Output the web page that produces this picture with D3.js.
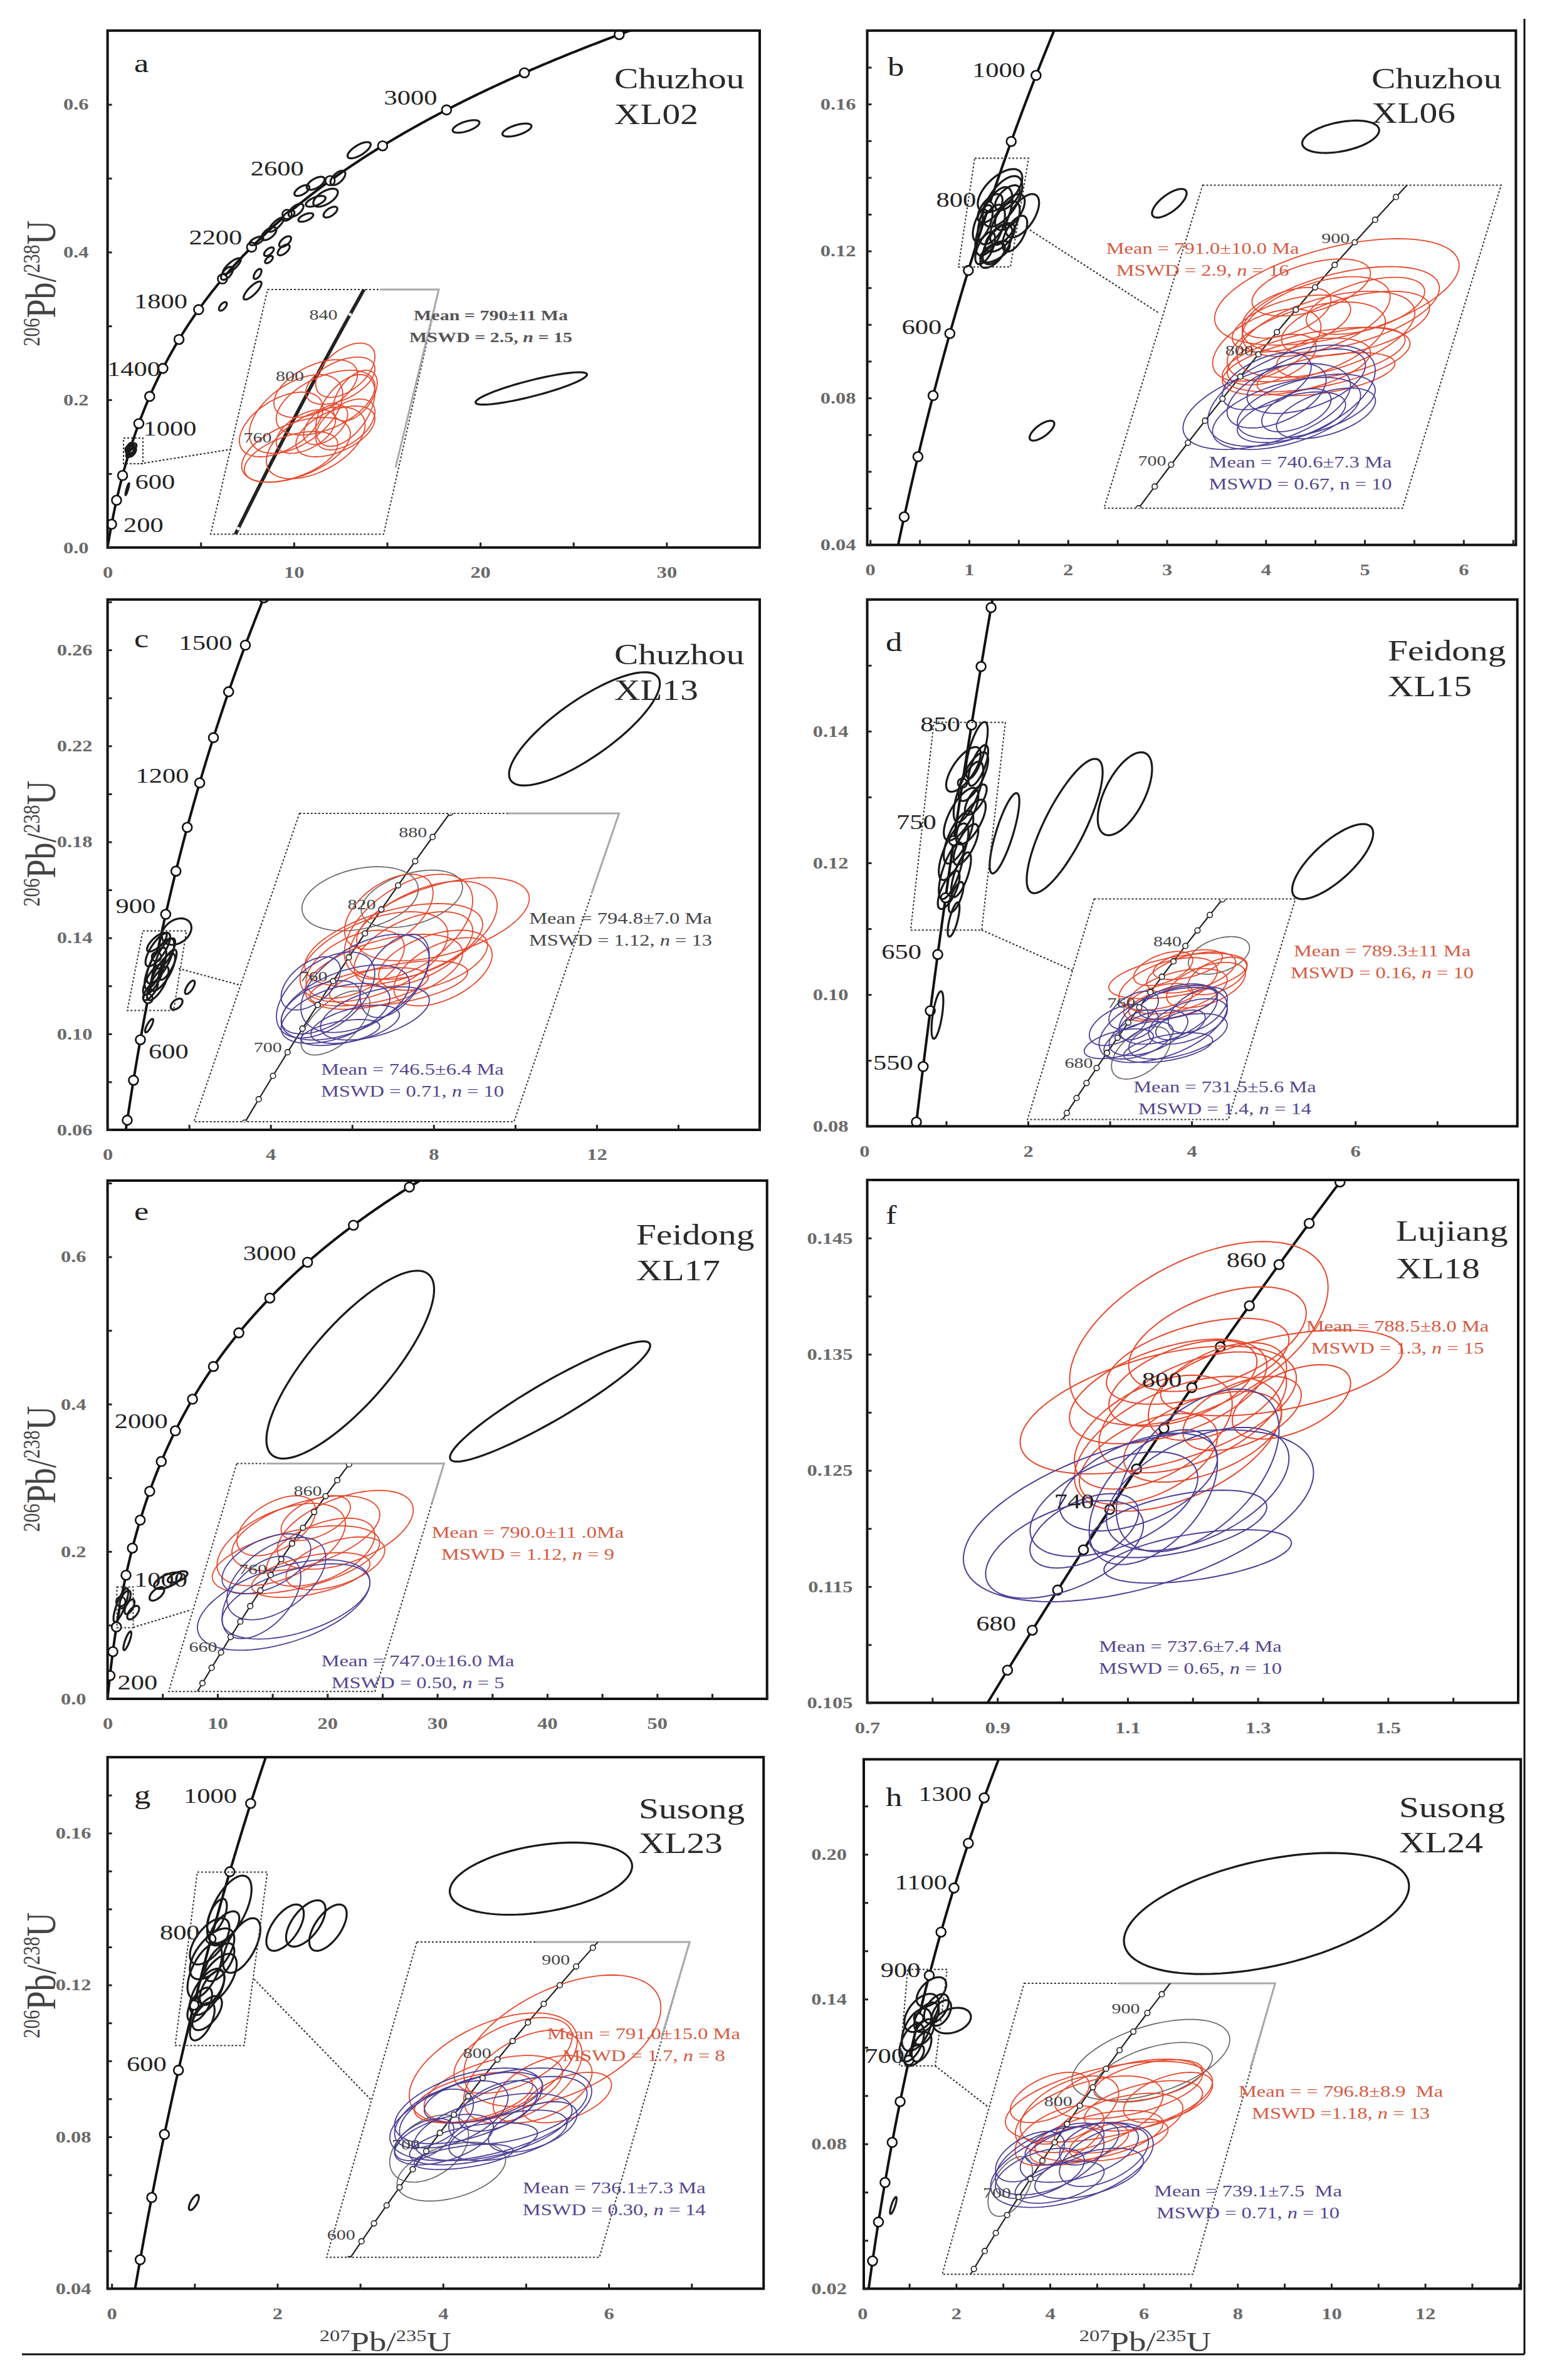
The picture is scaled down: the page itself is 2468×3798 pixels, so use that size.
<!DOCTYPE html>
<html><head><meta charset="utf-8">
<script src="https://cdn.jsdelivr.net/npm/d3@7"></script>
<style>body{margin:0;background:#fff}svg{display:block}text{white-space:pre}</style>
</head><body>
<svg id="fig" width="2468" height="3798"></svg>
<script>
// ================= DATA =================
// decay constants (per Ma) for the concordia reference curve
const L235 = 9.8485e-4, L238 = 1.55125e-4;

// ---- tick values ----
const aXTicks=[0,10,20,30], aYTicks=[0,0.2,0.4,0.6];
const bXTicks=[0,1,2,3,4,5,6], bYTicks=[0.04,0.08,0.12,0.16];
const cXTicks=[0,4,8,12], cYTicks=[0.06,0.10,0.14,0.18,0.22,0.26];
const dXTicks=[0,2,4,6], dYTicks=[0.08,0.10,0.12,0.14];
const eXTicks=[0,10,20,30,40,50], eYTicks=[0,0.2,0.4,0.6];
const fXTicks=[0.7,0.9,1.1,1.3,1.5], fYTicks=[0.105,0.115,0.125,0.135,0.145];
const gXTicks=[0,2,4,6], gYTicks=[0.04,0.08,0.12,0.16];
const hXTicks=[0,2,4,6,8,10,12], hYTicks=[0.02,0.08,0.14,0.20];

// ---- concordia age markers / labels (Ma) ----
const aMarkers=[200,400,600,800,1000,1200,1400,1600,1800,2000,2200,2400,2600,2800,3000,3200,3400,3600];
const aLabels=[200,600,1000,1400,1800,2200,2600,3000];
const bMarkers=[300,400,500,600,700,800,900,1000,1100];
const bLabels=[600,800,1000];
const cMarkers=[400,500,600,700,800,900,1000,1100,1200,1300,1400,1500,1600];
const cLabels=[600,900,1200,1500];
const dMarkers=[500,550,600,650,700,750,800,850,900,950,1000];
const dLabels=[550,650,750,850];
const eMarkers=[200,400,600,800,1000,1200,1400,1600,1800,2000,2200,2400,2600,2800,3000,3200,3400,3600];
const eLabels=[200,1000,2000,3000];
const fMarkers=[640,660,680,700,720,740,760,780,800,820,840,860,880,900,920];
const fLabels=[680,740,800,860];
const gMarkers=[300,400,500,600,700,800,900,1000,1100];
const gLabels=[600,800,1000];
const hMarkers=[200,300,400,500,600,700,800,900,1000,1100,1200,1300,1400];
const hLabels=[700,900,1100,1300];
const insetAges=[560,580,600,620,640,660,680,700,720,740,760,780,800,820,840,860,880,900,920,940,960];
const aInsetLabels=[760,800,840], bInsetLabels=[700,800,900], cInsetLabels=[700,760,820,880];
const dInsetLabels=[680,760,840], eInsetLabels=[660,760,860], gInsetLabels=[600,700,800,900], hInsetLabels=[700,800,900];

// ---- error ellipses: [207Pb/235U, 206Pb/238U, sx, sy, rho] ----
const aBlack=[[19.24,0.5702,0.72,0.0085,0.6],[21.97,0.5653,0.78,0.0088,0.6],[13.5,0.538,0.62,0.011,0.7],
[12.36,0.5005,0.40,0.0097],[11.17,0.4932,0.48,0.0088],[10.43,0.4834,0.40,0.0073],[11.70,0.4737,0.66,0.0122],
[11.17,0.4688,0.53,0.0073],[10.11,0.4566,0.40,0.0088],[10.64,0.4469,0.40,0.0058],[9.71,0.4493,0.32,0.0068],
[9.05,0.4371,0.40,0.0097,0.8],[8.66,0.4250,0.40,0.0088],[7.99,0.4152,0.37,0.0058],[9.53,0.4142,0.32,0.0073],
[9.45,0.4030,0.32,0.0073],[8.66,0.4006,0.26,0.0058],[8.66,0.3899,0.21,0.0049],[6.67,0.3811,0.48,0.0107,0.8],
[6.41,0.3713,0.32,0.0088],[8.05,0.3704,0.21,0.0068],[7.78,0.3480,0.48,0.0122,0.8],[6.19,0.3265,0.21,0.0058],
[11.96,0.4542,0.37,0.0073],[22.74,0.2154,2.99,0.0219,0.86],
[1.20,0.128,0.20,0.006],[1.30,0.134,0.25,0.007],[1.25,0.131,0.20,0.008],[1.18,0.136,0.18,0.006],[1.33,0.129,0.20,0.006],
[1.06,0.079,0.10,0.008,0.9]];
const aRed=[[1.2744,0.1328,0.078,0.0031],[1.2614,0.1316,0.091,0.0027],[1.1965,0.1307,0.110,0.0033],[1.2225,0.1291,0.130,0.0037],
[1.1446,0.1278,0.123,0.0045],[1.1056,0.1266,0.110,0.0037],[1.2744,0.1266,0.078,0.0029],[1.2484,0.1258,0.104,0.0029],
[1.1965,0.1245,0.130,0.0041],[1.1446,0.1237,0.143,0.0037],[1.1316,0.1229,0.123,0.0029],[1.2744,0.1282,0.078,0.0041],
[1.1705,0.1258,0.078,0.0025],[1.2225,0.1266,0.058,0.0023],[1.3004,0.1299,0.058,0.0029]];

const bBlack=[[4.758,0.1511,0.389,0.0044,0.4],[3.025,0.1330,0.175,0.0039,0.7],[1.737,0.0711,0.125,0.0027,0.7],
[1.313,0.1364,0.225,0.0059],[1.338,0.1335,0.200,0.0069],[1.263,0.1296,0.175,0.0078],[1.363,0.1276,0.150,0.0059],
[1.213,0.1257,0.150,0.0069],[1.288,0.1218,0.150,0.0054],[1.163,0.1208,0.100,0.0044],[1.238,0.1188,0.125,0.0034],
[1.413,0.1306,0.150,0.0049],[1.538,0.1296,0.170,0.0059],[1.463,0.1247,0.125,0.0049],[1.138,0.1276,0.100,0.0049],
[1.313,0.1237,0.150,0.0039],[1.388,0.1345,0.125,0.0034],[1.213,0.1316,0.125,0.0039],[1.263,0.1198,0.150,0.0029]];
const bRed=[[1.3841,0.1420,0.289,0.0084],[1.3934,0.1392,0.233,0.0068],[1.3351,0.1381,0.175,0.0063],[1.3584,0.1353,0.210,0.0068],
[1.3118,0.1341,0.187,0.0063],[1.4284,0.1370,0.175,0.0051],[1.2768,0.1370,0.140,0.0045],[1.2185,0.1336,0.128,0.0057],
[1.3351,0.1313,0.222,0.0051],[1.2885,0.1302,0.175,0.0045],[1.3934,0.1324,0.152,0.0040],[1.2652,0.1387,0.105,0.0040],
[1.4517,0.1398,0.140,0.0045],[1.2302,0.1313,0.105,0.0040],[1.3584,0.1290,0.163,0.0034],[1.3235,0.1427,0.140,0.0045]];
const bBlue=[[1.2185,0.1239,0.198,0.0068],[1.2768,0.1256,0.198,0.0080],[1.2652,0.1228,0.175,0.0057],[1.3118,0.1239,0.163,0.0051],
[1.2768,0.1222,0.128,0.0040],[1.2418,0.1256,0.117,0.0051],[1.3118,0.1279,0.140,0.0051],[1.2185,0.1279,0.105,0.0045],
[1.2885,0.1233,0.082,0.0034],[1.3584,0.1228,0.117,0.0040]];

const cBlack=[[11.70,0.2271,1.85,0.0236,0.8],[1.694,0.1426,0.363,0.0055,0.3],[2.02,0.1194,0.12,0.0028,0.7],
[1.694,0.1124,0.145,0.0023,0.5],[1.02,0.1034,0.10,0.0028,0.8],
[1.234,0.1351,0.303,0.0070],[1.295,0.1304,0.339,0.0094],[1.174,0.1273,0.266,0.0086],[1.355,0.1257,0.303,0.0078],
[1.113,0.1226,0.242,0.0063],[1.234,0.1210,0.266,0.0070],[1.416,0.1335,0.242,0.0063],[1.053,0.1179,0.182,0.0039],
[1.210,0.1382,0.242,0.0039],[1.476,0.1288,0.218,0.0063]];
const cGray=[[1.1858,0.1372,0.155,0.0047,0.3],[1.3238,0.1372,0.135,0.0042,0.4],[1.1201,0.1190,0.092,0.0047,0.6]];
const cRed=[[1.4067,0.1342,0.230,0.0061],[1.3541,0.1326,0.197,0.0072],[1.3147,0.1331,0.171,0.0077],[1.2753,0.1304,0.237,0.0061],
[1.2227,0.1287,0.197,0.0066],[1.2490,0.1265,0.210,0.0055],[1.3279,0.1298,0.158,0.0055],[1.1727,0.1276,0.131,0.0050],
[1.3804,0.1282,0.145,0.0044],[1.2622,0.1353,0.118,0.0055],[1.2096,0.1243,0.158,0.0028],[1.4067,0.1265,0.131,0.0050],
[1.2884,0.1248,0.184,0.0033]];
const cBlue=[[1.0938,0.1231,0.131,0.0063],[1.1464,0.1220,0.171,0.0055],[1.1201,0.1204,0.145,0.0044],[1.1990,0.1248,0.171,0.0072],
[1.0806,0.1213,0.105,0.0039],[1.2253,0.1204,0.145,0.0039],[1.1727,0.1188,0.118,0.0028],[1.2779,0.1259,0.092,0.0061],
[1.0543,0.1248,0.079,0.0039],[1.1332,0.1176,0.105,0.0019]];

const dBlack=[[2.448,0.1256,0.464,0.0102,0.8],[3.184,0.1305,0.332,0.0063,0.6],[1.713,0.1245,0.181,0.0061,0.8],
[5.723,0.1202,0.495,0.0057,0.75],[0.893,0.0969,0.072,0.0036,0.6],
[1.375,0.1371,0.133,0.0043],[1.211,0.1342,0.211,0.0034],[1.332,0.1331,0.181,0.0037],[1.272,0.1308,0.181,0.0046],
[1.182,0.1274,0.211,0.0040],[1.302,0.1262,0.181,0.0034],[1.151,0.1239,0.181,0.0040],[1.091,0.1217,0.181,0.0043],
[1.242,0.1228,0.151,0.0031],[1.061,0.1188,0.151,0.0043],[1.182,0.1182,0.121,0.0034],[1.031,0.1159,0.133,0.0029],
[1.121,0.1148,0.090,0.0023],[1.091,0.1114,0.072,0.0026],[1.362,0.1296,0.133,0.0023],[1.392,0.1348,0.121,0.0031]];
const dGray=[[1.4133,0.1370,0.115,0.0043,0.4],[1.1204,0.1147,0.111,0.0060,0.5]];
const dRed=[[1.2594,0.1323,0.260,0.0052],[1.2224,0.1305,0.185,0.0060],[1.3091,0.1331,0.167,0.0047],[1.2594,0.1288,0.185,0.0052],
[1.3647,0.1302,0.148,0.0052],[1.1853,0.1263,0.130,0.0043],[1.2965,0.1349,0.130,0.0034],[1.2409,0.1262,0.167,0.0039],
[1.4070,0.1323,0.111,0.0043],[1.2038,0.1340,0.111,0.0039]];
const dBlue=[[1.2038,0.1211,0.241,0.0086],[1.2224,0.1236,0.185,0.0069],[1.1482,0.1193,0.148,0.0052],[1.2595,0.1185,0.185,0.0052],
[1.1111,0.1176,0.130,0.0043],[1.2966,0.1219,0.148,0.0052],[1.0370,0.1211,0.111,0.0047],[1.2224,0.1159,0.167,0.0034],
[1.3337,0.1245,0.111,0.0052],[1.0926,0.1245,0.093,0.0043],[1.2687,0.1211,0.093,0.0034],[1.0370,0.1168,0.130,0.0034],
[1.2595,0.1263,0.148,0.0039],[1.1111,0.1211,0.074,0.0034]];

const eBlack=[[22.08,0.4536,7.63,0.1275,0.8],[40.26,0.4036,9.11,0.0816,0.93],[5.48,0.1604,1.26,0.0112,0.6],
[6.37,0.1655,0.90,0.0077,0.6],[4.49,0.1425,0.67,0.0092,0.6],[2.33,0.1170,0.54,0.0092,0.6],[1.21,0.1272,0.67,0.0229,0.8],
[1.80,0.0788,0.36,0.0127,0.8],[1.6,0.135,0.5,0.012,0.6],[2.0,0.125,0.45,0.010,0.6]];
const eRed=[[1.4113,0.1352,0.271,0.0088],[1.2539,0.1344,0.295,0.0084],[1.1556,0.1319,0.256,0.0092],[1.2146,0.1285,0.334,0.0076],
[1.3130,0.1302,0.216,0.0076],[1.1359,0.1361,0.157,0.0067],[1.3720,0.1277,0.197,0.0059],[1.2736,0.1251,0.236,0.0050],
[1.2933,0.1378,0.138,0.0050]];
const eBlue=[[1.1654,0.1184,0.344,0.0101],[1.1359,0.1243,0.197,0.0092],[1.2146,0.1192,0.295,0.0084],[1.0965,0.1276,0.177,0.0067],
[1.0768,0.1201,0.157,0.0092]];

const fRed=[[1.2095,0.1368,0.1985,0.0079],[1.3365,0.1334,0.1857,0.0037],[1.2380,0.1363,0.1364,0.0045],[1.2077,0.1344,0.1402,0.0037],
[1.1623,0.1318,0.1516,0.0045],[1.1471,0.1302,0.2122,0.0055],[1.1850,0.1325,0.1137,0.0037],[1.2001,0.1300,0.1440,0.0052],
[1.1395,0.1283,0.1212,0.0049],[1.2153,0.1279,0.1212,0.0039],[1.2380,0.1318,0.1061,0.0042],[1.1774,0.1273,0.1591,0.0058],
[1.2759,0.1299,0.0909,0.0032],[1.3517,0.1309,0.0909,0.0032],[1.1320,0.1260,0.1061,0.0039]];
const fBlue=[[1.1167,0.1211,0.2690,0.0074],[1.2077,0.1250,0.1250,0.0070],[1.2077,0.1234,0.1402,0.0053],[1.1395,0.1227,0.0985,0.0058],
[1.0790,0.1221,0.1288,0.0045],[1.0334,0.1198,0.0834,0.0032],[1.0031,0.1182,0.1212,0.0042],[1.1774,0.1204,0.1364,0.0029],
[1.1168,0.1240,0.1212,0.0042],[1.2077,0.1176,0.1440,0.0023]];

const gBlack=[[5.182,0.1480,1.101,0.0095,0.35],[2.093,0.1351,0.226,0.0061,0.6],[2.343,0.1362,0.238,0.0061,0.6],
[2.611,0.1351,0.226,0.0061,0.6],[0.992,0.0627,0.06,0.0020,0.7],
[1.420,0.1399,0.268,0.0089],[1.569,0.1304,0.226,0.0072],[1.182,0.1315,0.238,0.0061],[1.212,0.1282,0.268,0.0067],
[1.123,0.1237,0.208,0.0072],[1.271,0.1215,0.238,0.0067],[1.152,0.1182,0.208,0.0061],[1.063,0.1148,0.149,0.0045],
[1.301,0.1260,0.179,0.0050],[1.093,0.1104,0.149,0.0050],[1.361,0.1349,0.179,0.0045],[1.152,0.1126,0.179,0.0045],
[1.212,0.1193,0.149,0.0045],[1.271,0.1382,0.119,0.0045]];
const gGray=[[1.0653,0.1108,0.157,0.0056,0.4],[1.0011,0.1152,0.114,0.0064,0.4]];
const gRed=[[1.3863,0.1357,0.285,0.0125],[1.1866,0.1305,0.243,0.0105],[1.2437,0.1329,0.171,0.0072],[1.3293,0.1265,0.143,0.0064],
[1.1866,0.1265,0.200,0.0064],[1.1295,0.1249,0.171,0.0048],[1.2722,0.1289,0.171,0.0088],[1.4006,0.1249,0.128,0.0048]];
const gBlue=[[1.1794,0.1217,0.292,0.0088],[1.1152,0.1233,0.214,0.0072],[1.1866,0.1193,0.228,0.0064],[1.0724,0.1217,0.157,0.0064],
[1.2580,0.1225,0.200,0.0064],[1.0439,0.1169,0.143,0.0048],[1.1580,0.1249,0.171,0.0048],[1.1295,0.1161,0.185,0.0040],
[1.2294,0.1177,0.171,0.0048],[1.0153,0.1209,0.114,0.0056],[1.3008,0.1193,0.128,0.0048],[1.1009,0.1136,0.143,0.0024],
[1.2009,0.1233,0.114,0.0048],[0.9869,0.1169,0.086,0.0040]];

const hBlack=[[8.617,0.1755,3.04,0.0251,0.45],[1.915,0.1311,0.40,0.0053,0.3],[0.66,0.0545,0.07,0.0035,0.8],
[1.473,0.1430,0.316,0.0061],[1.262,0.1343,0.368,0.0079],[1.157,0.1273,0.316,0.0088],[1.368,0.1325,0.263,0.0061],
[1.052,0.1220,0.263,0.0079],[1.262,0.1202,0.210,0.0061],[1.578,0.1360,0.263,0.0061],[1.105,0.1167,0.210,0.0044],
[1.683,0.1343,0.210,0.0053],[1.315,0.1264,0.210,0.0053]];
const hGray=[[1.4380,0.1409,0.266,0.0077,0.5],[1.4463,0.1385,0.199,0.0057,0.5],[0.9643,0.1167,0.075,0.0057,0.5]];
const hRed=[[1.2967,0.1329,0.349,0.0077],[1.3632,0.1353,0.249,0.0057],[1.2302,0.1305,0.249,0.0073],[1.4297,0.1369,0.183,0.0040],
[1.1637,0.1313,0.166,0.0065],[1.3299,0.1288,0.216,0.0057],[1.2634,0.1264,0.216,0.0048],[1.1305,0.1264,0.150,0.0057],
[1.4131,0.1321,0.199,0.0048],[1.1969,0.1248,0.166,0.0040],[1.0973,0.1337,0.133,0.0048],[1.3299,0.1256,0.166,0.0040],
[1.4962,0.1337,0.150,0.0048]];
const hBlue=[[1.1720,0.1208,0.274,0.0081],[1.0972,0.1216,0.183,0.0065],[1.1969,0.1232,0.199,0.0057],[1.0640,0.1192,0.150,0.0048],
[1.2302,0.1192,0.183,0.0048],[1.1471,0.1248,0.133,0.0040],[1.0307,0.1224,0.116,0.0048],[1.2801,0.1224,0.150,0.0057],
[1.1305,0.1175,0.150,0.0040],[1.2302,0.1248,0.100,0.0040]];

// ---- text ----
const sampleNames=[["Chuzhou","XL02"],["Chuzhou","XL06"],["Chuzhou","XL13"],["Feidong","XL15"],["Feidong","XL17"],["Lujiang","XL18"],["Susong","XL23"],["Susong","XL24"]];
const panelLetters=["a","b","c","d","e","f","g","h"];
const meanTexts={
 a:[["Mean = 790±11 Ma","MSWD = 2.5, |n| = 15"]],
 b:[["Mean = 791.0±10.0 Ma","MSWD = 2.9, |n| = 16"],["Mean = 740.6±7.3 Ma","MSWD = 0.67, n = 10"]],
 c:[["Mean = 794.8±7.0 Ma","MSWD = 1.12, |n| = 13"],["Mean = 746.5±6.4 Ma","MSWD = 0.71, |n| = 10"]],
 d:[["Mean = 789.3±11 Ma","MSWD = 0.16, |n| = 10"],["Mean = 731.5±5.6 Ma","MSWD = 1.4, |n| = 14"]],
 e:[["Mean = 790.0±11 .0Ma","MSWD = 1.12, |n| = 9"],["Mean = 747.0±16.0 Ma","MSWD = 0.50, |n| = 5"]],
 f:[["Mean = 788.5±8.0 Ma","MSWD = 1.3, |n| = 15"],["Mean = 737.6±7.4 Ma","MSWD = 0.65, |n| = 10"]],
 g:[["Mean = 791.0±15.0 Ma","MSWD = 1.7, |n| = 8"],["Mean = 736.1±7.3 Ma","MSWD = 0.30, |n| = 14"]],
 h:[["Mean = = 796.8±8.9  Ma","MSWD =1.18, |n| = 13"],["Mean = 739.1±7.5  Ma","MSWD = 0.71, |n| = 10"]]
};

// ================= LAYOUT / STYLE =================
const SX=1.25;
const FONT="'Liberation Serif','Times New Roman',Times,serif";
const RED="#e6482c", BLUE="#4a3f96", GRAY="#666", REDT="#d65a42", BLUET="#55468f";
const TOPS={a:[980,141,198],b:[2188,141,196],c:[980,1060,1117],d:[2214,1054,1111],e:[1015,1986,2043],f:[2227,1980,2040],g:[1019,2902,2957],h:[2232,2900,2956]};
const LETTERS={a:[214,115],b:[1416,121],c:[214,1033],d:[1413,1039],e:[214,1947],f:[1413,1953],g:[214,2878],h:[1413,2882]};

const panels=[
 {id:'a',frame:[171.6,48.8,1212,873.7],xd:[0,35],yd:[0,0.7],xT:aXTicks,yT:aYTicks,xf:'d',yf:'.1f',xm:5,ym:0.1,ylx:30,
  markers:aMarkers,labels:aLabels,black:aBlack,brho:0.6,
  lpos:{200:['start',19,0],600:['start',20,9],1000:['start',7,7],1400:['end',-4,0],1800:['end',-18,-14],2200:['end',-15,-16],2600:['end',-42,-20],3000:['end',-15,-20]},
  means:[{x:783,y:511,c:'#555',w:'bold',s:24}],
  inset:{xv:1.1987,xp:505,kx:606,yv:0.13214,yp:600,ky:13960,thick:true,gaps:[700,840],
   poly:[[427,462],[700,462],[612,852.5],[336,852.5]],box:[[197,699],[228,699],[228,740],[197,740]],con:[[224,740],[369,717]],
   gray:[],red:aRed,blue:[],labels:aInsetLabels,ldx:-20,ldy:0,edge:[[606,462],[700,462],[631,746]]}},
 {id:'b',frame:[1383.5,48.8,2418.4,869.6],xd:[-0.03,6.53],yd:[0.04,0.18],xT:bXTicks,yT:bYTicks,xf:'d',yf:'.2f',xm:0.5,ym:0.01,ylx:18,
  markers:bMarkers,labels:bLabels,black:bBlack,brho:0.6,
  lpos:{600:['end',-13,-11],800:['end',-20,-11],1000:['end',-17,-9]},
  means:[{x:1918.6,y:405,c:REDT},{x:2074.5,y:745.5,c:BLUET}],
  inset:{xv:1.1987,xp:2007.6,kx:675,yv:0.13214,yp:565.4,ky:10100,
   poly:[[1918.6,295.6],[2394.8,295.6],[2237.4,811],[1761.3,811]],box:[[1555,252.6],[1641,252.6],[1612,426],[1529,426]],con:[[1643,367],[1848,499]],
   gray:[],red:bRed,blue:bBlue,labels:bInsetLabels,ldx:-8,ldy:-7}},
 {id:'c',frame:[171.6,956.7,1212,1803],xd:[0,16],yd:[0.06,0.281],xT:cXTicks,yT:cYTicks,xf:'d',yf:'.2f',xm:2,ym:0.02,ylx:24,
  markers:cMarkers,labels:cLabels,black:cBlack,brho:0.75,
  lpos:{600:['start',13,18],900:['end',-16,-14],1200:['end',-17,-12],1500:['end',-21,-5]},
  means:[{x:990,y:1473.5,c:'#444'},{x:658,y:1715,c:BLUET}],
  inset:{xv:0.99251,xp:458.8,kx:598.6,yv:0.11470,yp:1679.2,ky:10884,
   poly:[[477.7,1297.9],[987.6,1297.9],[820,1790],[309.3,1790]],box:[[228,1485.5],[297.5,1485.5],[277,1612.6],[203,1612.6]],con:[[285,1545.5],[384,1572.4]],
   gray:cGray,red:cRed,blue:cBlue,labels:cInsetLabels,ldx:-9,ldy:-8,edge:[[810,1297.9],[987.6,1297.9],[944,1425]]}},
 {id:'d',frame:[1383.5,956.7,2420.7,1797.3],xd:[0.035,7.98],yd:[0.08,0.16],xT:dXTicks,yT:dYTicks,xf:'d',yf:'.2f',xm:1,ym:0.01,ylx:30,
  markers:dMarkers,labels:dLabels,black:dBlack,brho:0.7,
  lpos:{550:['end',-16,-7],650:['end',-26,-5],750:['end',-28,-30],850:['end',-18,-2]},
  means:[{x:2205,y:1526,c:REDT},{x:1954,y:1743,c:BLUET}],
  inset:{xv:0.95354,xp:1749.5,kx:424.5,yv:0.11125,yp:1704.3,ky:6975,
   poly:[[1745.5,1434.6],[2066.6,1434.6],[1959.6,1786.5],[1639.3,1786.5]],box:[[1489.8,1152.8],[1603.9,1152.8],[1566.1,1484.3],[1452.8,1484.3]],con:[[1566,1484],[1711,1548.5]],
   gray:dGray,red:dRed,blue:dBlue,labels:dInsetLabels,ldx:-6,ldy:-8}},
 {id:'e',frame:[171.6,1884,1223.7,2711],xd:[0,60],yd:[0,0.7034],xT:eXTicks,yT:eYTicks,xf:'d',yf:'.1f',xm:5,ym:0.1,ylx:34,
  markers:eMarkers,labels:eLabels,black:eBlack,brho:0.6,
  lpos:{200:['start',12,10],1000:['start',13,6],2000:['end',-12,-16],3000:['end',-18,-15]},
  means:[{x:842,y:2453.5,c:REDT},{x:666.6,y:2659,c:BLUET}],
  inset:{xv:0.91554,xp:352.6,kx:400,yv:0.10781,yp:2636.9,ky:7144,
   poly:[[377.7,2335.4],[708.3,2335.4],[598.1,2699.3],[269.1,2699.3]],box:[[186.5,2532.6],[212.5,2532.6],[212.5,2597.4],[186.5,2597.4]],con:[[212.5,2597],[305,2569]],
   gray:[],red:eRed,blue:eBlue,labels:eInsetLabels,ldx:-6,ldy:-9,edge:[[425,2335.4],[708.3,2335.4],[689,2399]]}},
 {id:'f',frame:[1383.5,1883,2422,2717.3],xd:[0.7,1.7],yd:[0.105,0.15],xT:fXTicks,yT:fYTicks,xf:'.1f',yf:'.3f',xm:0.1,ym:0.005,ylx:23,
  markers:fMarkers,labels:fLabels,black:[],brho:0.5,red:fRed,blue:fBlue,
  lpos:{680:['end',-26,-11],740:['end',-25,-14],800:['end',-16,-13],860:['end',-20,-8]},
  means:[{x:2229.5,y:2125,c:REDT},{x:1899,y:2636.3,c:BLUET}]},
 {id:'g',frame:[171.6,2804.1,1218.2,3652.3],xd:[-0.05,7.87],yd:[0.04,0.18],xT:gXTicks,yT:gYTicks,xf:'d',yf:'.2f',xm:1,ym:0.01,ylx:26,
  markers:gMarkers,labels:gLabels,black:gBlack,brho:0.6,
  lpos:{600:['end',-19,-11],800:['end',-18,-11],1000:['end',-22,-13]},
  means:[{x:1027,y:3253.7,c:REDT},{x:979.8,y:3500,c:BLUET}],
  inset:{xv:0.80565,xp:576.8,kx:551.6,yv:0.09754,yp:3576.7,ky:8388,
   poly:[[665,3099],[1100.2,3099],[956.2,3602.3],[521,3602.3]],box:[[314.8,2987.6],[426.5,2987.6],[389.5,3264.3],[279.4,3264.3]],con:[[405.3,3158.4],[591.8,3350.7]],
   gray:gGray,red:gRed,blue:gBlue,labels:gInsetLabels,ldx:-10,ldy:-11,edge:[[853.8,3099],[1100.2,3099],[1055,3253]]}},
 {id:'h',frame:[1378,2807.5,2426.2,3652.3],xd:[0.03,14.04],yd:[0.02,0.2394],xT:hXTicks,yT:hYTicks,xf:'d',yf:'.2f',xm:1,ym:0.02,ylx:27,
  markers:hMarkers,labels:hLabels,black:hBlack,brho:0.5,
  lpos:{700:['end',-7,-8],900:['end',-14,-9],1100:['end',-11,-10],1300:['end',-20,-7]},
  means:[{x:2139,y:3346,c:REDT},{x:1991,y:3504.7,c:BLUET}],
  inset:{xv:0.99251,xp:1625.1,kx:473.4,yv:0.11470,yp:3505.9,ky:8358,
   poly:[[1633.8,3165.1],[2034.3,3165.1],[1902.9,3629.3],[1503.1,3629.3]],box:[[1448,3142.8],[1511,3142.8],[1492,3296.7],[1435,3296.7]],con:[[1492,3296.7],[1576.3,3362.1]],
   gray:hGray,red:hRed,blue:hBlue,labels:hInsetLabels,ldx:-12,ldy:-7,edge:[[1785,3165.1],[2034.3,3165.1],[1995,3300]]}}
];

// ================= DRAWING =================
const svg=d3.select('#fig');
svg.append('rect').attr('width',2468).attr('height',3798).attr('fill','#fff');
const defs=svg.append('defs');
function conc(t){return [Math.exp(L235*t)-1,Math.exp(L238*t)-1];}

function txt(g,x,y,s,o){
  o=o||{};
  const t=g.append('text').attr('transform',o.tr||`translate(${x},${y}) scale(${SX},1)`)
   .attr('font-family',FONT).attr('font-size',o.size||26).attr('fill',o.fill||'#222')
   .attr('text-anchor',o.anchor||'start');
  if(o.weight) t.attr('font-weight',o.weight);
  const parts=s.split('|');
  parts.forEach((p,i)=>{ if(!p) return; const ts=t.append('tspan').text(p); if(i%2===1) ts.attr('font-style','italic'); });
  return t;
}
function ellPath(e,xs,ys,dr){
  const cx=e[0],cy=e[1],sx=e[2],sy=e[3],r=(e[4]===undefined?dr:e[4]);
  const q=Math.sqrt(1-r*r);
  const pts=d3.range(0,96).map(i=>{const t=i/96*2*Math.PI;
    return [xs(cx+sx*Math.cos(t)),ys(cy+sy*(r*Math.cos(t)+q*Math.sin(t)))];});
  return d3.line()(pts)+'Z';
}
function drawEll(g,arr,xs,ys,dr,col,w){
  arr.forEach(e=>g.append('path').attr('d',ellPath(e,xs,ys,dr)).attr('fill','none').attr('stroke',col).attr('stroke-width',w));
}
function ptsStr(a){return a.map(p=>p.join(',')).join(' ');}
function stepVals(lo,hi,st){const s=Math.ceil(lo/st-1e-6);const e=Math.floor(hi/st+1e-6);return d3.range(s,e+1).map(i=>+(i*st).toFixed(6));}

panels.forEach((P,pi)=>{
  const [L,T,R,B]=P.frame;
  const x=d3.scaleLinear().domain(P.xd).range([L,R]);
  const y=d3.scaleLinear().domain(P.yd).range([B,T]);
  const g=svg.append('g');
  defs.append('clipPath').attr('id','clip'+P.id).append('rect').attr('x',L).attr('y',T).attr('width',R-L).attr('height',B-T);
  const gc=g.append('g').attr('clip-path',`url(#clip${P.id})`);
  // concordia
  const ages=d3.range(0,4600,4);
  gc.append('path').attr('d',d3.line()(ages.map(t=>{const c=conc(t);return [x(c[0]),y(c[1])];})))
    .attr('fill','none').attr('stroke','#111').attr('stroke-width',4);
  P.markers.forEach(t=>{const c=conc(t);
    gc.append('circle').attr('cx',x(c[0])).attr('cy',y(c[1])).attr('r',7.5).attr('fill','#fff').attr('stroke','#111').attr('stroke-width',2.6);});
  drawEll(gc,P.black,x,y,P.brho,'#1a1a1a',3.2);
  if(P.red) drawEll(gc,P.red,x,y,0.5,RED,2);
  if(P.blue) drawEll(gc,P.blue,x,y,0.5,BLUE,2);
  // age labels
  P.labels.forEach(t=>{const c=conc(t);const lp=P.lpos[t];
    txt(g,x(c[0])+lp[1],y(c[1])+lp[2]+12,String(t),{size:34,anchor:lp[0],fill:'#222'});});
  // frame
  g.append('rect').attr('x',L).attr('y',T).attr('width',R-L).attr('height',B-T).attr('fill','none').attr('stroke','#111').attr('stroke-width',4);
  // minor ticks via d3 axes
  const xmin=stepVals(P.xd[0],P.xd[1],P.xm), ymin=stepVals(P.yd[0],P.yd[1],P.ym);
  const ax=g.append('g').attr('transform',`translate(0,${B})`).call(d3.axisBottom(x).tickValues(xmin).tickSize(-8).tickFormat(''));
  ax.select('.domain').remove(); ax.selectAll('line').attr('stroke','#222').attr('stroke-width',3);
  const ay=g.append('g').attr('transform',`translate(${L},0)`).call(d3.axisLeft(y).tickValues(ymin).tickSize(-7).tickFormat(''));
  ay.select('.domain').remove(); ay.selectAll('line').attr('stroke','#222').attr('stroke-width',3);
  // tick labels
  const lx=g.append('g').attr('transform',`translate(0,${B})`).call(d3.axisBottom(x).tickValues(P.xT).tickSize(0).tickPadding(30).tickFormat(d3.format(P.xf)));
  lx.select('.domain').remove();
  lx.selectAll('text').attr('font-family',FONT).attr('font-size',26).attr('font-weight','bold').attr('fill','#6a6a6a').attr('transform',`scale(${SX},1)`);
  const ly=g.append('g').attr('transform',`translate(${L},0)`).call(d3.axisLeft(y).tickValues(P.yT).tickSize(0).tickPadding(P.ylx/SX).tickFormat(d3.format(P.yf)));
  ly.select('.domain').remove();
  ly.selectAll('text').attr('font-family',FONT).attr('font-size',26).attr('font-weight','bold').attr('fill','#6a6a6a').attr('transform',`scale(${SX},1)`);
  // inset
  if(P.inset){
    const I=P.inset;
    const ix=d3.scaleLinear().domain([I.xv,I.xv+1]).range([I.xp,I.xp+I.kx]);
    const iy=d3.scaleLinear().domain([I.yv,I.yv+1]).range([I.yp,I.yp-I.ky]);
    defs.append('clipPath').attr('id','iclip'+P.id).append('polygon').attr('points',ptsStr(I.poly));
    g.append('polygon').attr('points',ptsStr(I.box)).attr('fill','none').attr('stroke','#333').attr('stroke-width',2).attr('stroke-dasharray','3,3');
    g.append('line').attr('x1',I.con[0][0]).attr('y1',I.con[0][1]).attr('x2',I.con[1][0]).attr('y2',I.con[1][1])
      .attr('stroke','#333').attr('stroke-width',2.2).attr('stroke-dasharray','3,3');
    g.append('polygon').attr('points',ptsStr(I.poly)).attr('fill','none').attr('stroke','#333').attr('stroke-width',2).attr('stroke-dasharray','3,3');
    if(I.edge) g.append('polyline').attr('points',ptsStr(I.edge)).attr('fill','none').attr('stroke','#aaa').attr('stroke-width',3);
    const gi=g.append('g').attr('clip-path',`url(#iclip${P.id})`);
    const ia=d3.range(500,1101,2);
    gi.append('path').attr('d',d3.line()(ia.map(t=>{const c=conc(t);return [ix(c[0]),iy(c[1])];})))
      .attr('fill','none').attr('stroke','#222').attr('stroke-width',I.thick?5.5:2.2);
    drawEll(gi,I.gray,ix,iy,0.4,GRAY,1.7);
    drawEll(gi,I.red,ix,iy,0.5,RED,1.8);
    drawEll(gi,I.blue,ix,iy,0.5,BLUE,1.8);
    if(I.thick){
      I.gaps.forEach(t=>{const c=conc(t);gi.append('circle').attr('cx',ix(c[0])).attr('cy',iy(c[1])).attr('r',2.6).attr('fill','#fff');});
    } else {
      insetAges.forEach(t=>{const c=conc(t);
        gi.append('circle').attr('cx',ix(c[0])).attr('cy',iy(c[1])).attr('r',4.3).attr('fill','#fff').attr('stroke','#222').attr('stroke-width',1.6);});
    }
    I.labels.forEach(t=>{const c=conc(t);
      txt(g,ix(c[0])+I.ldx,iy(c[1])+I.ldy+8,String(t),{size:24,anchor:'end',fill:'#444'});});
  }
  // mean texts
  meanTexts[P.id].forEach((lines,k)=>{const m=P.means[k];
    lines.forEach((s,j)=>txt(g,m.x,m.y+j*35,s,{size:m.s||26,anchor:'middle',fill:m.c,weight:m.w}));});
  // panel letter and sample name
  const lt=LETTERS[P.id]; txt(g,lt[0],lt[1],panelLetters[pi],{size:42,fill:'#222'});
  const tp=TOPS[P.id]; txt(g,tp[0],tp[1],sampleNames[pi][0],{size:46,fill:'#2a2a2a'}); txt(g,tp[0],tp[2],sampleNames[pi][1],{size:46,fill:'#2a2a2a'});
});

// axis titles
function ratioTitle(g,tr,a,b,size,sup,dy){
  const t=g.append('text').attr('transform',tr).attr('font-family',FONT).attr('font-size',size).attr('fill','#444').attr('text-anchor','middle');
  t.append('tspan').text(a).attr('font-size',sup).attr('dy',-dy);
  t.append('tspan').text('Pb/').attr('dy',dy);
  t.append('tspan').text(b).attr('font-size',sup).attr('dy',-dy);
  t.append('tspan').text('U').attr('dy',dy);
}
[452,1346,2344,3152].forEach(cy=>ratioTitle(svg,`translate(88,${cy}) rotate(-90) scale(1,${SX})`,'206','238',54,30,20));
[615,1827].forEach(cx=>ratioTitle(svg,`translate(${cx},3752) scale(${SX},1)`,'207','235',44,26,16));
// outer lines
svg.append('line').attr('x1',35).attr('y1',3757).attr('x2',2432).attr('y2',3757).attr('stroke','#111').attr('stroke-width',3);
svg.append('line').attr('x1',2432).attr('y1',30).attr('x2',2432).attr('y2',3757).attr('stroke','#111').attr('stroke-width',3);
</script>
</body></html>
